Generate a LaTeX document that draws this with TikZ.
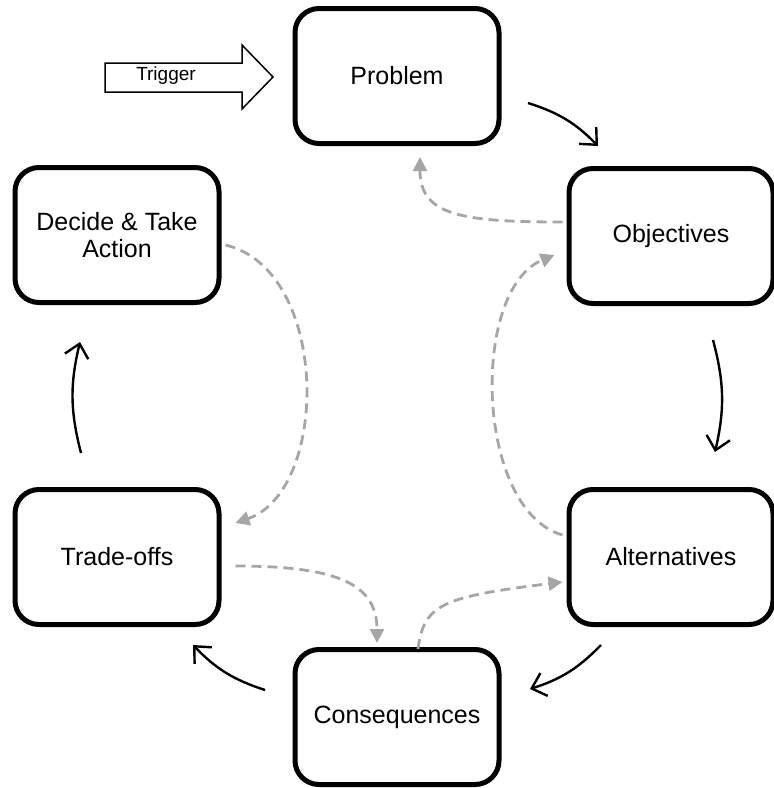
\documentclass[tikz,border=0pt]{standalone}
\usepackage{fontspec}
\setmainfont{Liberation Sans}
\usetikzlibrary{arrows.meta,calc}
\definecolor{dashgray}{HTML}{A6A6A6}
\begin{document}
\begin{tikzpicture}[x=1pt,y=-1pt,
  box/.style={draw, line width=5pt, rounded corners=24pt, minimum width=204pt,
    minimum height=135pt, align=center, fill=white,
    font=\fontsize{25}{27}\selectfont},
  flow/.style={line width=2.4pt, -{Straight Barb[length=13pt,width=24pt]}, bend left=14},
  back/.style={color=dashgray, line width=2.8pt, dash pattern=on 10pt off 6pt,
    -{Triangle[length=14pt,width=14pt]}},
  trig/.style={draw, line width=1.5pt, fill=white, line join=miter}
]
\useasboundingbox (0,0) rectangle (774,788);

% nodes
\node[box] (prob) at (397,76) {Problem};
\node[box] (obj) at (671,236) {Objectives};
\node[box] (dec) at (117,235) {Decide \& Take\\Action};
\node[box] (trade) at (117,557) {Trade-offs};
\node[box] (alt) at (671,557) {Alternatives};
\node[box] (cons) at (397,717) {Consequences};

% trigger block arrow
\draw[trig] (105,63) -- (242,63) -- (242,45) -- (273,77) -- (242,109) -- (242,92) -- (105,92) -- cycle;
\node[font=\fontsize{19}{22}\selectfont] (trigger) at (166,76) {Trigger};

% black cycle arrows (free ends)
\coordinate (f1s) at (528,103); \coordinate (f1e) at (598,146);
\coordinate (f2s) at (713,340); \coordinate (f2e) at (715,452);
\coordinate (f3s) at (601,645); \coordinate (f3e) at (530,689);
\coordinate (f4s) at (265,690); \coordinate (f4e) at (193,645);
\coordinate (f5s) at (81,453);  \coordinate (f5e) at (80,342);
\draw[flow] (f1s) to (f1e);
\draw[flow] (f2s) to (f2e);
\draw[flow] (f3s) to (f3e);
\draw[flow] (f4s) to (f4e);
\draw[flow] (f5s) to (f5e);

% grey dashed feedback arrows
\draw[back] ($(obj.west)+(-4,-14)$) .. controls (460,222) and (420,215) .. ($(prob.south)+(23,11)$);
\draw[back] ($(dec.east)+(4,10)$) .. controls (330,270) and (330,490) .. ($(trade.east)+(14,-34)$);
\draw[back] ($(alt.west)+(-4,-22)$) .. controls (475,510) and (470,290) .. ($(obj.west)+(-12,19)$);
\draw[back] ($(trade.east)+(14,9)$) .. controls (340,566) and (377,585) .. ($(cons.north)+(-20,-4)$);
\draw[back] ($(cons.north)+(21,2)$) .. controls (424,605) and (440,597) .. ($(alt.west)+(-4,25)$);
\end{tikzpicture}
\end{document}
